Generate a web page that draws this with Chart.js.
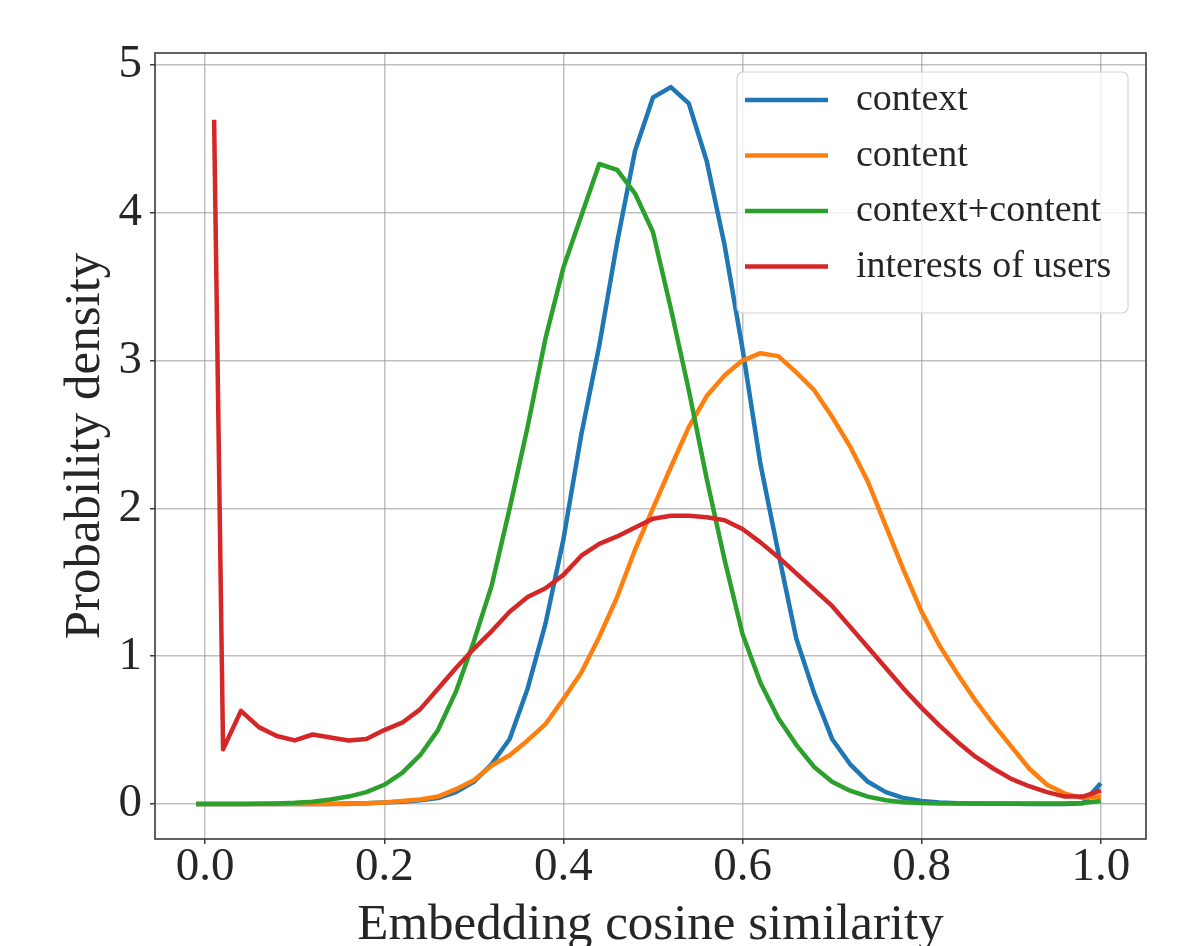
<!DOCTYPE html>
<html>
<head>
<meta charset="utf-8">
<title>Embedding cosine similarity</title>
<script src="https://cdn.jsdelivr.net/npm/chart.js@4"></script>
<style>
  html, body { margin: 0; padding: 0; background: #fff; }
  #wrap { width: 1194px; height: 946px; position: relative; }
</style>
</head>
<body>
<div id="wrap"><canvas id="chart"></canvas></div>
<script>
// x positions (cosine similarity) shared by all curves
const xs = [-0.01, 0.00, 0.01, 0.02, 0.04, 0.06, 0.08, 0.10, 0.12, 0.14, 0.16, 0.18, 0.20,
  0.22, 0.24, 0.26, 0.28, 0.30, 0.32, 0.34, 0.36, 0.38, 0.40, 0.42, 0.44, 0.46, 0.48, 0.50,
  0.52, 0.54, 0.56, 0.58, 0.60, 0.62, 0.64, 0.66, 0.68, 0.70, 0.72, 0.74, 0.76, 0.78, 0.80,
  0.82, 0.84, 0.86, 0.88, 0.90, 0.92, 0.94, 0.96, 0.98, 1.00];

const context = [0, 0, 0, 0, 0, 0, 0, 0, 0, 0, 0.003, 0.005, 0.01,
  0.015, 0.025, 0.04, 0.08, 0.15, 0.27, 0.44, 0.78, 1.22, 1.79, 2.5, 3.1, 3.8, 4.42, 4.78,
  4.85, 4.74, 4.35, 3.78, 3.08, 2.3, 1.7, 1.12, 0.75, 0.44, 0.27, 0.15, 0.08, 0.04, 0.02,
  0.01, 0.005, 0.003, 0.002, 0.001, 0, 0, 0, 0.005, 0.14];

const content = [0, 0, 0, 0, 0, 0, 0, 0, 0, 0, 0, 0.005, 0.01,
  0.02, 0.03, 0.05, 0.1, 0.16, 0.26, 0.33, 0.43, 0.54, 0.71, 0.89, 1.13, 1.4, 1.72, 2.0,
  2.28, 2.55, 2.76, 2.9, 3.0, 3.05, 3.03, 2.92, 2.8, 2.62, 2.42, 2.18, 1.88, 1.58, 1.3,
  1.07, 0.88, 0.7, 0.54, 0.39, 0.24, 0.13, 0.07, 0.04, 0.05];

const contextContent = [0, 0, 0, 0, 0, 0.002, 0.004, 0.008, 0.015, 0.03, 0.05, 0.08, 0.13,
  0.21, 0.33, 0.5, 0.76, 1.1, 1.48, 2.0, 2.55, 3.15, 3.63, 3.98, 4.33, 4.29, 4.13, 3.87,
  3.35, 2.8, 2.2, 1.65, 1.15, 0.82, 0.58, 0.4, 0.25, 0.15, 0.09, 0.05, 0.025, 0.012, 0.006,
  0.004, 0.003, 0.003, 0.003, 0.003, 0.003, 0.003, 0.004, 0.006, 0.02];

const interests = [null, null, 4.63, 0.37, 0.63, 0.52, 0.46, 0.43, 0.47, 0.45, 0.43, 0.44, 0.5,
  0.55, 0.64, 0.78, 0.92, 1.05, 1.17, 1.3, 1.4, 1.46, 1.55, 1.68, 1.76, 1.81, 1.87, 1.93,
  1.95, 1.95, 1.94, 1.92, 1.86, 1.77, 1.67, 1.56, 1.45, 1.34, 1.2, 1.06, 0.92, 0.78, 0.65,
  0.53, 0.42, 0.32, 0.24, 0.17, 0.12, 0.08, 0.05, 0.05, 0.09];

const seriesNames = ["context", "content", "context+content", "interests of users"];
const seriesColors = ["#1f77b4", "#ff7f0e", "#2ca02c", "#d62728"];
const xTicks = [0.0, 0.2, 0.4, 0.6, 0.8, 1.0];
const yTicks = [0, 1, 2, 3, 4, 5];

const serif = "'Liberation Serif', 'DejaVu Serif', serif";
const textColor = "#262626";
const gridColor = "rgba(150,150,150,0.6)";

const toPoints = (ys) => xs.map((x, i) => ({ x, y: ys[i] }));

const makeDataset = (ys, i) => ({
    label: seriesNames[i],
    data: toPoints(ys),
    borderColor: seriesColors[i],
    backgroundColor: seriesColors[i],
    borderWidth: 4.5,
    pointRadius: 0,
    showLine: true,
    tension: 0,
    borderJoinStyle: "round",
    order: 4 - i, // later series on top, as in the original
});

// top/right spines too, like a matplotlib frame
const frame = {
    id: "frame",
    afterDraw(chart) {
        const { ctx, chartArea: a } = chart;
        ctx.save();
        ctx.strokeStyle = "#3a3a3a";
        ctx.lineWidth = 1.6;
        ctx.strokeRect(a.left, a.top, a.right - a.left, a.bottom - a.top);
        ctx.restore();
    },
};

// legend box inside the upper right corner
const boxLegend = {
    id: "boxLegend",
    afterDatasetsDraw(chart) {
        const { ctx, chartArea: a } = chart;
        const w = 391;
        const h = 241;
        const left = a.right - 18 - w;
        const top = a.top + 19;
        ctx.save();
        ctx.beginPath();
        ctx.roundRect(left, top, w, h, 6);
        ctx.fillStyle = "rgba(255,255,255,0.8)";
        ctx.fill();
        ctx.strokeStyle = "#d4d4d4";
        ctx.lineWidth = 1.2;
        ctx.stroke();
        ctx.font = "38px " + serif;
        ctx.textBaseline = "alphabetic";
        chart.data.datasets.forEach((ds, i) => {
            const y = top + 28 + i * 55.5;
            ctx.strokeStyle = ds.borderColor;
            ctx.lineWidth = 4.5;
            ctx.beginPath();
            ctx.moveTo(left + 8, y);
            ctx.lineTo(left + 91, y);
            ctx.stroke();
            ctx.fillStyle = textColor;
            ctx.fillText(ds.label, left + 119, y + 10);
        });
        ctx.restore();
    },
};

new Chart(document.getElementById("chart"), {
    type: "scatter",
    data: {
        datasets: [context, content, contextContent, interests].map(makeDataset),
    },
    options: {
        responsive: true,
        maintainAspectRatio: false,
        animation: false,
        layout: { padding: { left: 0, top: 53, right: 48, bottom: 0 } },
        plugins: {
            legend: { display: false },
            tooltip: { enabled: false },
        },
        scales: {
            x: {
                type: "linear",
                min: -0.056,
                max: 1.0505,
                afterBuildTicks: (axis) => {
                    axis.ticks = xTicks.map((v) => ({ value: v }));
                },
                afterFit: (axis) => {
                    axis.height = 107;
                },
                ticks: {
                    callback: (v) => Number(v).toFixed(1),
                    font: { family: serif, size: 47, lineHeight: 1 },
                    color: textColor,
                    padding: 0,
                    maxRotation: 0,
                    autoSkip: false,
                },
                grid: {
                    color: gridColor,
                    lineWidth: 1.5,
                    tickLength: 5,
                    tickColor: "#3a3a3a",
                    tickWidth: 1.5,
                },
                border: { display: false },
                title: {
                    display: true,
                    text: "Embedding cosine similarity",
                    font: { family: serif, size: 51, lineHeight: 0.8 },
                    color: textColor,
                    padding: { top: 0, bottom: 0 },
                },
            },
            y: {
                type: "linear",
                min: -0.237,
                max: 5.081,
                afterBuildTicks: (axis) => {
                    axis.ticks = yTicks.map((v) => ({ value: v }));
                },
                afterFit: (axis) => {
                    axis.width = 155;
                },
                ticks: {
                    callback: (v) => String(v),
                    font: { family: serif, size: 47, lineHeight: 1 },
                    color: textColor,
                    padding: 8,
                },
                grid: {
                    color: gridColor,
                    lineWidth: 1.5,
                    tickLength: 5,
                    tickColor: "#3a3a3a",
                    tickWidth: 1.5,
                },
                border: { display: false },
                title: {
                    display: true,
                    text: "Probability density",
                    font: { family: serif, size: 51, lineHeight: 1 },
                    color: textColor,
                    padding: { top: 60, bottom: 0 },
                },
            },
        },
    },
    plugins: [boxLegend, frame],
});
</script>
</body>
</html>
